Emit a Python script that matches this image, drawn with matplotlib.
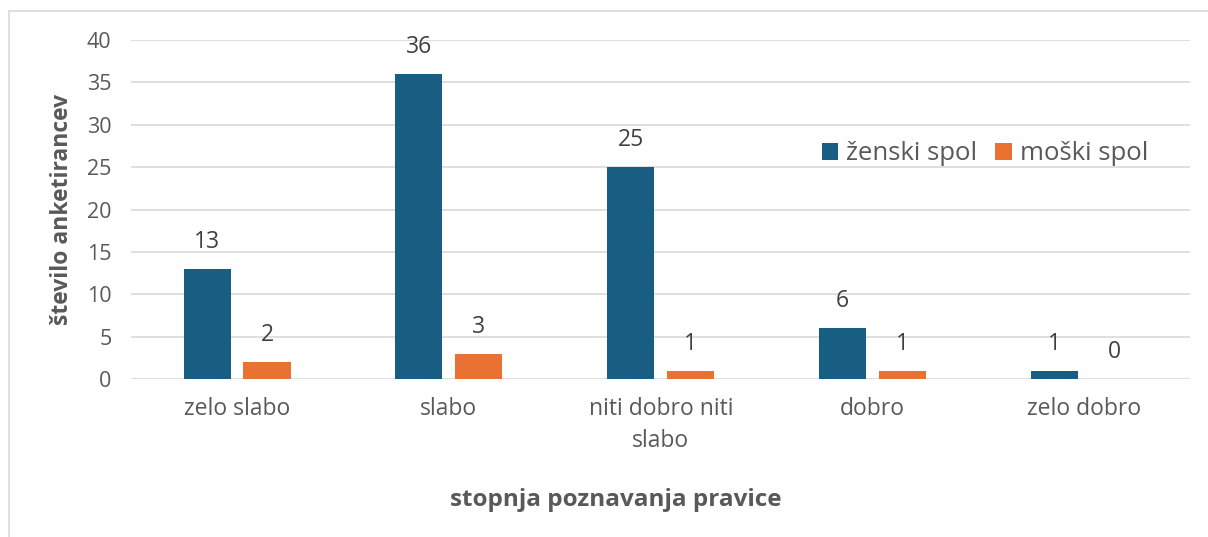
import numpy as np
import matplotlib.pyplot as plt
from matplotlib.patches import Rectangle

categories = ["zelo slabo", "slabo", "niti dobro niti\nslabo", "dobro", "zelo dobro"]
zenski = [13, 36, 25, 6, 1]
moski = [2, 3, 1, 1, 0]
series_names = ["ženski spol", "moški spol"]

blue = "#175E82"
orange = "#E97132"
text_col = "#595959"
grid_col = "#D9D9D9"

plt.rcParams["font.family"] = ["Open Sans", "DejaVu Sans"]

fig = plt.figure(figsize=(12.08, 5.37), dpi=100)
ax = fig.add_axes([0.1085, 0.294, 0.877, 0.6315])

# light chart border like the spreadsheet frame
fig.patches.append(Rectangle((9 / 1208, -0.01), 1.02, 1 - 11 / 537 + 0.01,
                             transform=fig.transFigure, fill=False,
                             edgecolor="#D9D9D9", linewidth=1.2))

x = np.arange(len(categories))
w = 0.222
off = 0.1415
b1 = ax.bar(x - off, zenski, w, color=blue, label=series_names[0], zorder=3)
b2 = ax.bar(x + off, moski, w, color=orange, label=series_names[1], zorder=3)

for bars in (b1, b2):
    for rect in bars:
        h = rect.get_height()
        ax.annotate(f"{h:.0f}", (rect.get_x() + rect.get_width() / 2, h),
                    xytext=(0, 19.5), textcoords="offset points",
                    ha="center", va="center", fontsize=16.5, color="#404040")

ax.set_xlim(-0.5, len(categories) - 0.5)
ax.set_ylim(0, 40)
ax.set_yticks(range(0, 41, 5))
ax.yaxis.grid(True, color=grid_col, linewidth=1.2, zorder=0)
ax.set_xticks(x)
ax.set_xticklabels(categories, fontsize=16.5, color=text_col, linespacing=1.45)
ax.tick_params(axis="y", labelsize=15.5, colors=text_col, length=0, pad=14)
ax.tick_params(axis="x", length=0, pad=13)
for s in ax.spines.values():
    s.set_visible(False)

ax.set_ylabel("število anketirancev", fontsize=16.5, fontweight="bold",
              color=text_col, labelpad=9)
fig.text(616 / 1208, 1 - 500 / 537, "stopnja poznavanja pravice",
         fontsize=17.5, fontweight="bold", color=text_col, ha="center", va="center")

ax.legend(loc="center left", bbox_to_anchor=(0.63, 0.665), ncol=2, frameon=False,
          fontsize=18.5, labelcolor=text_col, handlelength=0.65, handleheight=0.65,
          handletextpad=0.3, columnspacing=0.7)

fig.savefig("out.png", dpi=100)
